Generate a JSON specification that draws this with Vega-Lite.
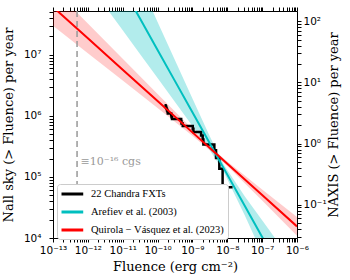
{
  "$schema": "https://vega.github.io/schema/vega-lite/v6.json",
  "width": 244,
  "height": 227,
  "autosize": {"type": "none"},
  "padding": {"left": 53, "top": 11, "right": 53, "bottom": 42},
  "config": {
    "view": {"stroke": "black", "strokeWidth": 1},
    "axis": {"domain": false, "grid": false, "labelFont": "DejaVu Sans", "labelFontSize": 10.5, "labelColor": "black", "titleFont": "DejaVu Serif", "titleFontSize": 13, "titleFontWeight": "normal", "titleColor": "black", "tickColor": "black", "tickWidth": 1, "tickSize": 4, "labelOverlap": false, "labelFlush": false},
    "legend": {"orient": "none", "legendX": 4, "legendY": 173, "symbolType": "M-1,0H2.95", "symbolSize": 121, "symbolStrokeWidth": 3, "labelFont": "Liberation Serif", "labelFontSize": 10.5, "labelColor": "black", "fillColor": "white", "strokeColor": "#cccccc", "padding": 3, "cornerRadius": 3, "rowPadding": 5, "labelOffset": 17, "labelLimit": 300, "offset": 0}
  },
  "datasets": {
    "fxt": [
      {"F": 1.585e-10, "N": 1496000}, {"F": 1.694e-10, "N": 1428000}, {"F": 1.750e-10, "N": 1360000},
      {"F": 1.808e-10, "N": 1292000}, {"F": 1.868e-10, "N": 1224000}, {"F": 1.931e-10, "N": 1156000},
      {"F": 1.968e-10, "N": 1088000}, {"F": 2.460e-10, "N": 1020000}, {"F": 2.512e-10, "N": 952000},
      {"F": 2.595e-10, "N": 884000}, {"F": 4.753e-10, "N": 816000}, {"F": 4.853e-10, "N": 748000},
      {"F": 5.284e-10, "N": 680000}, {"F": 1.021e-9, "N": 612000}, {"F": 1.069e-9, "N": 544000},
      {"F": 1.774e-9, "N": 476000}, {"F": 1.968e-9, "N": 408000}, {"F": 2.061e-9, "N": 340000},
      {"F": 4.254e-9, "N": 272000}, {"F": 4.753e-9, "N": 204000}, {"F": 5.907e-9, "N": 136000},
      {"F": 7.339e-9, "N": 68000}, {"F": 1.416e-8, "N": 68000}
    ],
    "red": [
      {"F": 1e-13, "lo": 2.98e7, "hi": 1.225e8, "mid": 6.04e7},
      {"F": 1e-12, "lo": 1.062e7, "hi": 3.236e7, "mid": 1.854e7},
      {"F": 1e-11, "lo": 3.776e6, "hi": 8.57e6, "mid": 5.689e6},
      {"F": 1e-10, "lo": 1.341e6, "hi": 2.272e6, "mid": 1.746e6},
      {"F": 1e-9, "lo": 4.726e5, "hi": 6.075e5, "mid": 5.358e5},
      {"F": 5.012e-9, "lo": 2.188e5, "hi": 2.512e5, "mid": 2.344e5},
      {"F": 1e-8, "lo": 1.514e5, "hi": 1.786e5, "mid": 1.644e5},
      {"F": 1e-7, "lo": 4.102e4, "hi": 6.209e4, "mid": 5.047e4},
      {"F": 1e-6, "lo": 1.09e4, "hi": 2.2e4, "mid": 1.549e4}
    ],
    "cyan": [
      {"F": 1e-12, "lo": 1.514e8, "hi": 1.138e10, "mid": 1.312e9},
      {"F": 1e-11, "lo": 2.506e7, "hi": 6.266e8, "mid": 1.253e8},
      {"F": 3.162e-11, "lo": 1.021e7, "hi": 1.469e8, "mid": 3.873e7},
      {"F": 1e-10, "lo": 4.15e6, "hi": 3.451e7, "mid": 1.197e7},
      {"F": 3.162e-10, "lo": 1.687e6, "hi": 8.11e6, "mid": 3.698e6},
      {"F": 1e-9, "lo": 6.823e5, "hi": 1.914e6, "mid": 1.143e6},
      {"F": 3.162e-9, "lo": 2.723e5, "hi": 4.581e5, "mid": 3.532e5},
      {"F": 7.943e-9, "lo": 1.202e5, "hi": 1.585e5, "mid": 1.38e5},
      {"F": 3.162e-8, "lo": 2.355e4, "hi": 4.831e4, "mid": 3.373e4},
      {"F": 1e-7, "lo": 5585, "hi": 1.945e4, "mid": 1.042e4},
      {"F": 3.162e-7, "lo": 1315, "hi": 7889, "mid": 3221},
      {"F": 1e-6, "lo": 309, "hi": 3206, "mid": 995}
    ],
    "cgs": [{"F": 4.9e-13, "Nt": 176000, "label": "≡10⁻¹⁶ cgs", "Fl": 6.2e-13}],
    "axisref": [{"F": 1e-10, "NA": 1}]
  },
  "layer": [
    {
      "layer": [
        {
          "data": {"name": "cyan"},
          "mark": {"type": "area", "color": "#00bfbf", "opacity": 0.3, "clip": true},
          "encoding": {
            "x": {"field": "F", "type": "quantitative", "title": "Fluence (erg cm⁻²)", "scale": {"type": "log", "domain": [1e-13, 1e-6], "nice": false},
              "axis": {"orient": "bottom", "labelPadding": 3, "titlePadding": 5,
                "values": [1e-13,2e-13,3e-13,4e-13,5e-13,6e-13,7e-13,8e-13,9e-13,1e-12,2e-12,3e-12,4e-12,5e-12,6e-12,7e-12,8e-12,9e-12,1e-11,2e-11,3e-11,4e-11,5e-11,6e-11,7e-11,8e-11,9e-11,1e-10,2e-10,3e-10,4e-10,5e-10,6e-10,7e-10,8e-10,9e-10,1e-9,2e-9,3e-9,4e-9,5e-9,6e-9,7e-9,8e-9,9e-9,1e-8,2e-8,3e-8,4e-8,5e-8,6e-8,7e-8,8e-8,9e-8,1e-7,2e-7,3e-7,4e-7,5e-7,6e-7,7e-7,8e-7,9e-7,1e-6],
                "labelExpr": "abs(log(datum.value)/LN10 - round(log(datum.value)/LN10)) < 0.001 ? ['10⁻¹³','10⁻¹²','10⁻¹¹','10⁻¹⁰','10⁻⁹','10⁻⁸','10⁻⁷','10⁻⁶'][round(log(datum.value)/LN10)+13] : ''",
                "encode": {"ticks": {"update": {"y2": {"signal": "abs(log(datum.value)/LN10 - round(log(datum.value)/LN10)) < 0.001 ? -4 : -2"}}}}}},
            "y": {"field": "lo", "type": "quantitative", "title": "Nall sky (> Fluence) per year", "scale": {"type": "log", "domain": [10000, 52000000], "nice": false},
              "axis": {"orient": "left", "labelPadding": 8, "titlePadding": 8,
                "values": [10000,20000,30000,40000,50000,60000,70000,80000,90000,100000,200000,300000,400000,500000,600000,700000,800000,900000,1000000,2000000,3000000,4000000,5000000,6000000,7000000,8000000,9000000,10000000,20000000,30000000,40000000,50000000],
                "labelExpr": "abs(log(datum.value)/LN10 - round(log(datum.value)/LN10)) < 0.001 ? ['10⁴','10⁵','10⁶','10⁷'][round(log(datum.value)/LN10)-4] : ''",
                "encode": {"ticks": {"update": {"x2": {"signal": "abs(log(datum.value)/LN10 - round(log(datum.value)/LN10)) < 0.001 ? 4 : 2"}}}}}},
            "y2": {"field": "hi"}
          }
        },
        {
          "data": {"name": "red"},
          "mark": {"type": "area", "color": "#ff0000", "opacity": 0.2, "clip": true},
          "encoding": {
            "x": {"field": "F", "type": "quantitative", "title": "Fluence (erg cm⁻²)"},
            "y": {"field": "lo", "type": "quantitative", "title": "Nall sky (> Fluence) per year"},
            "y2": {"field": "hi"}
          }
        },
        {
          "data": {"name": "cgs"},
          "mark": {"type": "rule", "color": "#999999", "strokeWidth": 1.5, "strokeDash": [6, 4]},
          "encoding": {"x": {"field": "F", "type": "quantitative", "title": "Fluence (erg cm⁻²)"}}
        },
        {
          "data": {"name": "cgs"},
          "mark": {"type": "text", "align": "left", "baseline": "middle", "font": "DejaVu Serif", "fontSize": 11, "color": "#999999"},
          "encoding": {
            "x": {"field": "Fl", "type": "quantitative", "title": "Fluence (erg cm⁻²)"},
            "y": {"field": "Nt", "type": "quantitative", "title": "Nall sky (> Fluence) per year"},
            "text": {"field": "label"}
          }
        },
        {
          "data": {"name": "fxt"},
          "mark": {"type": "line", "interpolate": "step-after", "strokeWidth": 2.5, "clip": true},
          "encoding": {
            "x": {"field": "F", "type": "quantitative", "title": "Fluence (erg cm⁻²)"},
            "y": {"field": "N", "type": "quantitative", "title": "Nall sky (> Fluence) per year"},
            "color": {"datum": "22 Chandra FXTs", "type": "nominal",
              "scale": {"domain": ["22 Chandra FXTs", "Arefiev et al. (2003)", "Quirola − Vásquez et al. (2023)"], "range": ["#000000", "#00bfbf", "#ff0000"]},
              "legend": {"title": null}}
          }
        },
        {
          "data": {"name": "cyan"},
          "mark": {"type": "line", "strokeWidth": 2, "clip": true},
          "encoding": {
            "x": {"field": "F", "type": "quantitative", "title": "Fluence (erg cm⁻²)"},
            "y": {"field": "mid", "type": "quantitative", "title": "Nall sky (> Fluence) per year"},
            "color": {"datum": "Arefiev et al. (2003)", "type": "nominal"}
          }
        },
        {
          "data": {"name": "red"},
          "mark": {"type": "line", "strokeWidth": 2, "clip": true},
          "encoding": {
            "x": {"field": "F", "type": "quantitative", "title": "Fluence (erg cm⁻²)"},
            "y": {"field": "mid", "type": "quantitative", "title": "Nall sky (> Fluence) per year"},
            "color": {"datum": "Quirola − Vásquez et al. (2023)", "type": "nominal"}
          }
        }
      ]
    },
    {
      "data": {"name": "axisref"},
      "mark": {"type": "point", "opacity": 0},
      "encoding": {
        "x": {"field": "F", "type": "quantitative", "title": null, "scale": {"type": "log", "domain": [1e-13, 1e-6], "nice": false},
          "axis": {"orient": "top", "labels": false,
            "values": [1e-13,2e-13,3e-13,4e-13,5e-13,6e-13,7e-13,8e-13,9e-13,1e-12,2e-12,3e-12,4e-12,5e-12,6e-12,7e-12,8e-12,9e-12,1e-11,2e-11,3e-11,4e-11,5e-11,6e-11,7e-11,8e-11,9e-11,1e-10,2e-10,3e-10,4e-10,5e-10,6e-10,7e-10,8e-10,9e-10,1e-9,2e-9,3e-9,4e-9,5e-9,6e-9,7e-9,8e-9,9e-9,1e-8,2e-8,3e-8,4e-8,5e-8,6e-8,7e-8,8e-8,9e-8,1e-7,2e-7,3e-7,4e-7,5e-7,6e-7,7e-7,8e-7,9e-7,1e-6],
            "encode": {"ticks": {"update": {"y2": {"signal": "abs(log(datum.value)/LN10 - round(log(datum.value)/LN10)) < 0.001 ? 4 : 2"}}}}}},
        "y": {"field": "NA", "type": "quantitative", "title": "NAXIS (> Fluence) per year", "scale": {"type": "log", "domain": [0.0285, 148], "nice": false},
          "axis": {"orient": "right", "titleAngle": 270, "labelPadding": 2, "titlePadding": 14,
            "values": [0.03,0.04,0.05,0.06,0.07,0.08,0.09,0.1,0.2,0.3,0.4,0.5,0.6,0.7,0.8,0.9,1,2,3,4,5,6,7,8,9,10,20,30,40,50,60,70,80,90,100],
            "labelExpr": "abs(log(datum.value)/LN10 - round(log(datum.value)/LN10)) < 0.001 ? ['10⁻¹','10⁰','10¹','10²'][round(log(datum.value)/LN10)+1] : ''",
            "encode": {"ticks": {"update": {"x2": {"signal": "abs(log(datum.value)/LN10 - round(log(datum.value)/LN10)) < 0.001 ? -4 : -2"}}}}}}
      }
    }
  ],
  "resolve": {"scale": {"y": "independent"}, "axis": {"x": "independent", "y": "independent"}}
}
